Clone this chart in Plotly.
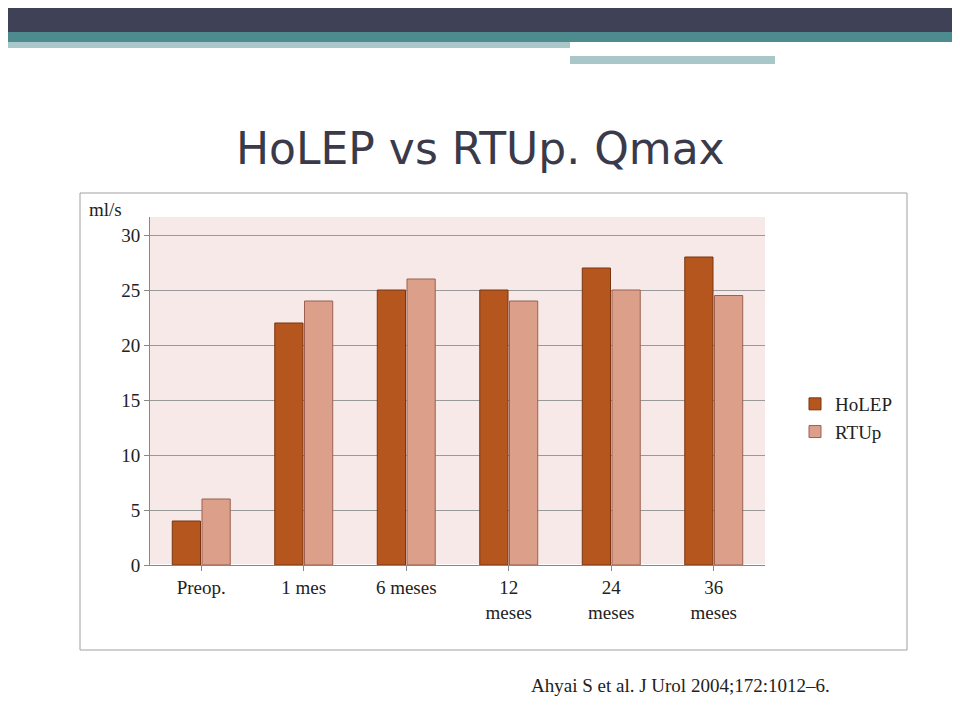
import plotly.graph_objects as go

categories = ["Preop.", "1 mes", "6 meses", "12<br>meses", "24<br>meses", "36<br>meses"]
holep = [4, 22, 25, 25, 27, 28]
rtup = [6, 24, 26, 24, 25, 24.5]

OFF = 8  # page offset in the screenshot
W, H = 615, 348
L, T = 150 - OFF, 217 - OFF
R, B = 960 - L - W, 720 - T - H
px = lambda x: (x - 150) / W
py = lambda y: (565 - y) / H

fig = go.Figure()
fig.add_bar(x=categories, y=holep, name="HoLEP", marker=dict(color="#b5561f", line=dict(color="#7a3410", width=1)))
fig.add_bar(x=categories, y=rtup, name="RTUp", marker=dict(color="#dca08a", line=dict(color="#9a6050", width=1)))

shapes = [
    dict(type="rect", xref="paper", yref="paper", x0=px(-10), x1=px(970), y0=py(32), y1=py(-10), fillcolor="#3f4156", line_width=0, layer="below"),
    dict(type="rect", xref="paper", yref="paper", x0=px(-10), x1=px(970), y0=py(42), y1=py(32), fillcolor="#4d8b8e", line_width=0, layer="below"),
    dict(type="rect", xref="paper", yref="paper", x0=px(-10), x1=px(570), y0=py(48), y1=py(42), fillcolor="#a9c6c9", line_width=0, layer="below"),
    dict(type="rect", xref="paper", yref="paper", x0=px(570), x1=px(775), y0=py(64), y1=py(56), fillcolor="#a9c6c9", line_width=0, layer="below"),
    dict(type="rect", xref="paper", yref="paper", x0=px(80), x1=px(907), y0=py(650), y1=py(193), fillcolor="rgba(0,0,0,0)", line=dict(color="#a0a0a0", width=1), layer="below"),
]

fig.update_layout(
    width=960, height=720, margin=dict(l=L, r=R, t=T, b=B),
    paper_bgcolor="white", plot_bgcolor="#f6e9e7",
    barmode="group", bargap=0.42, bargroupgap=0.05,
    font=dict(family="Liberation Serif", size=19, color="#222"),
    xaxis=dict(showline=True, linecolor="#888", ticks="outside", tickcolor="#888"),
    yaxis=dict(range=[0, 30 * H / 330], tickvals=[0, 5, 10, 15, 20, 25, 30], showgrid=True, gridcolor="#999", showline=True, linecolor="#888", ticks="outside", tickcolor="#888"),
    legend=dict(x=px(795), y=py(385), xanchor="left", yanchor="top", font=dict(size=19)),
    shapes=shapes,
    annotations=[
        dict(text="HoLEP vs RTUp. Qmax", xref="paper", yref="paper", x=px(480), y=py(148), xanchor="center", yanchor="middle", showarrow=False, font=dict(family="DejaVu Sans", size=44, color="#3a3a4a")),
        dict(text="ml/s", xref="paper", yref="paper", x=px(105), y=py(210), xanchor="center", yanchor="middle", showarrow=False, font=dict(size=19)),
        dict(text="Ahyai S et al. J Urol 2004;172:1012–6.", xref="paper", yref="paper", x=px(680), y=py(685), xanchor="center", yanchor="middle", showarrow=False, font=dict(size=19)),
    ],
)
fig.write_html("out.html")
